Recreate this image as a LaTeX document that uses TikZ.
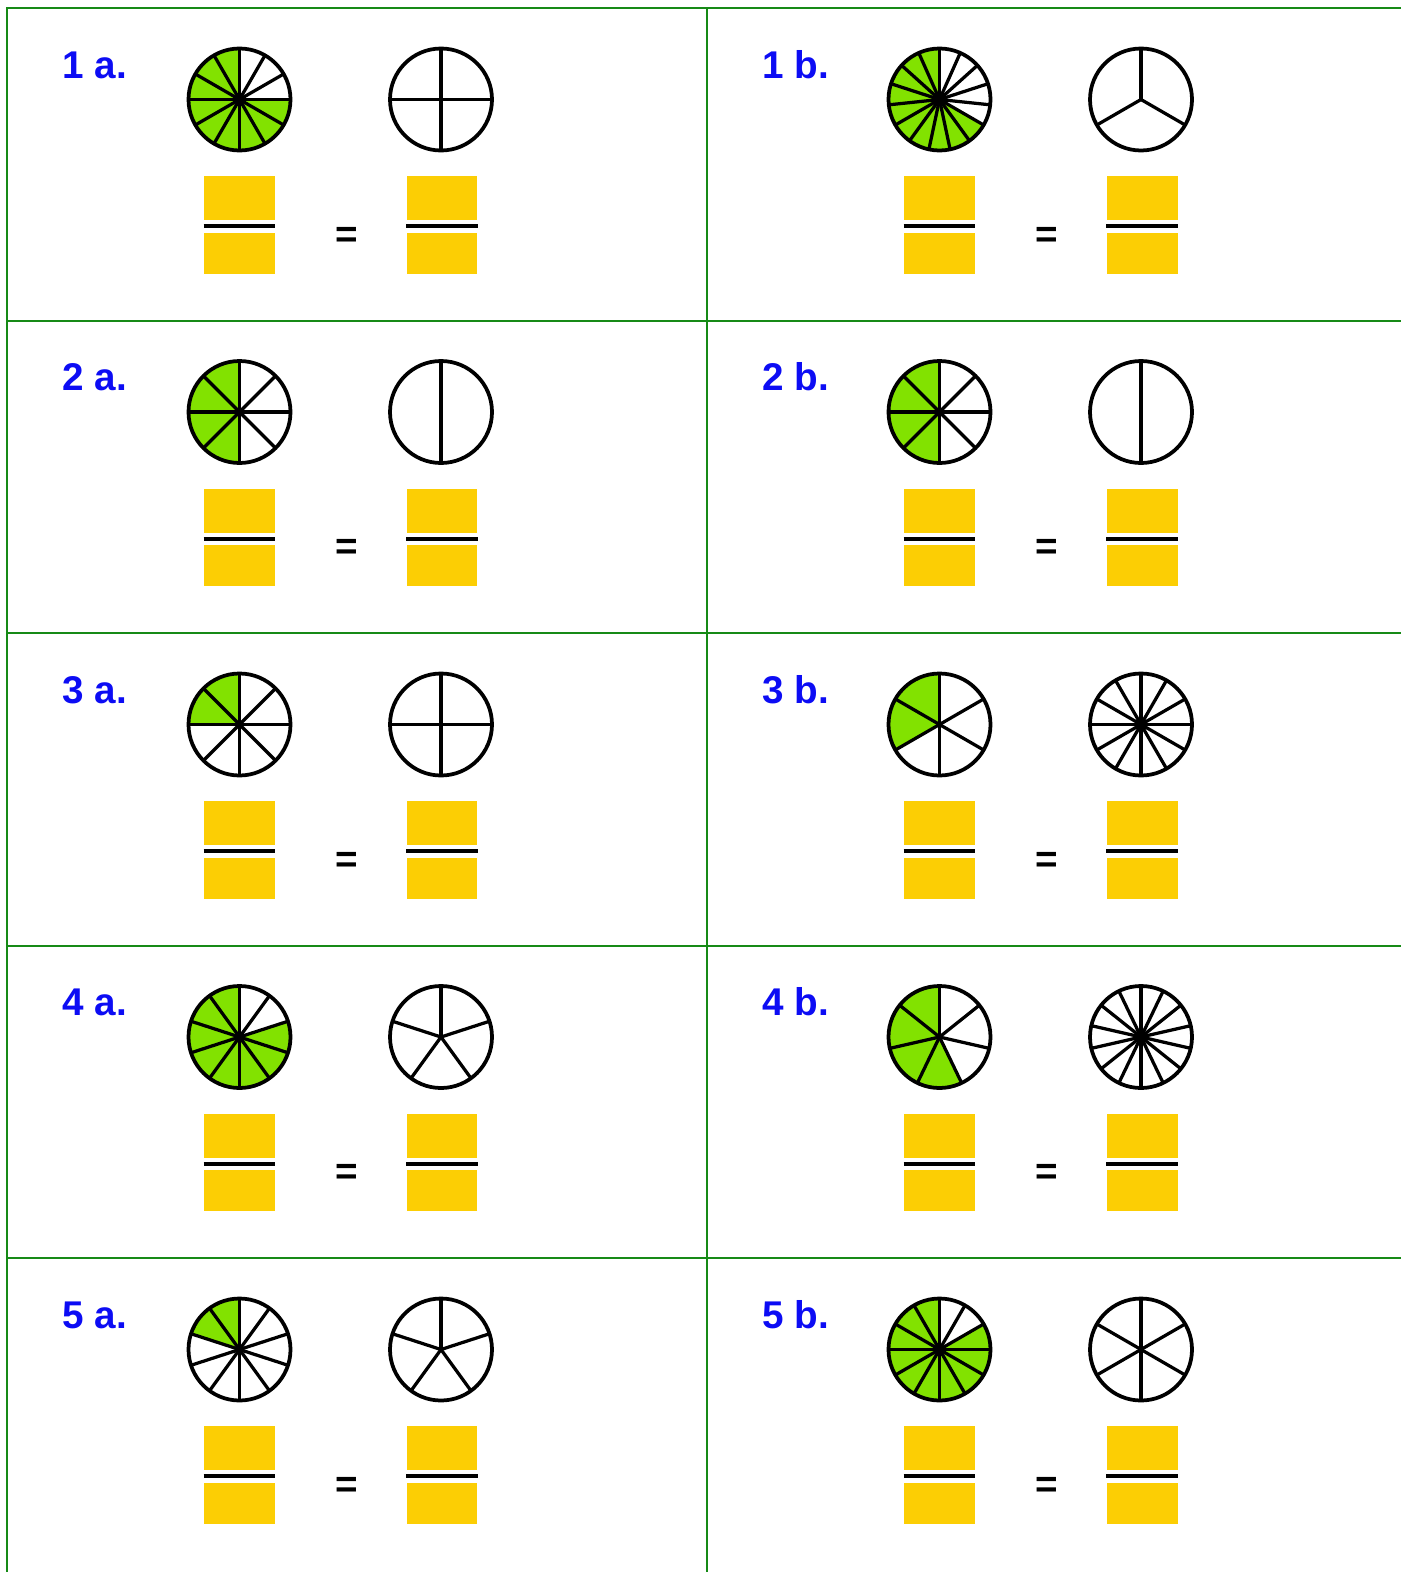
\documentclass[tikz,border=0pt]{standalone}
\usepackage{fontspec}
\setmainfont{Liberation Sans}
\usepackage{tikz}
\usetikzlibrary{positioning}
\definecolor{gridgreen}{HTML}{168A16}
\definecolor{piegreen}{HTML}{82E200}
\definecolor{boxyellow}{HTML}{FCCE04}
\definecolor{lblblue}{HTML}{0C0CF4}

% #1 centre, #2 parts, #3 shaded parts (counter-clockwise from the top)
\newcommand{\fracpie}[3]{%
  \ifnum#3>0\relax
    \fill[piegreen] (#1) -- ++(90:51) arc[start angle=90, delta angle={360*#3/#2}, radius=51] -- cycle;
  \fi
  \foreach \s in {1,...,#2}
    \draw[spoke] (#1) -- ++({90+(\s-1)*360/#2}:51);
  \draw[rim] (#1) circle[radius=51];
}

\begin{document}
\begin{tikzpicture}[
  x=0.02cm, y=0.02cm,
  cell/.style={gridgreen, line width=0.04cm},
  rim/.style={black, line width=0.075cm},
  spoke/.style={black, line width=0.065cm},
  lbl/.style={font=\fontsize{22}{26}\selectfont\bfseries, text=lblblue, inner sep=0pt, anchor=base west},
  numbox/.style={fill=boxyellow, minimum width=1.42cm, minimum height=0.88cm, inner sep=0pt},
  denbox/.style={fill=boxyellow, minimum width=1.42cm, minimum height=0.82cm, inner sep=0pt},
  bar/.style={black, line width=0.08cm},
  eqs/.style={font=\fontsize{22}{26}\selectfont\bfseries, inner sep=0pt},
]
  \useasboundingbox (0,0) rectangle (1401,-1572);

  % Grid
  \draw[cell] (7,-1572) -- (7,-8) -- (1401,-8);
  \draw[cell] (707,-8) -- (707,-1572);
  \foreach \h in {1,...,4}
    \draw[cell] (7,{-8-312.5*\h}) -- (1401,{-8-312.5*\h});

  % Exercises: row/part/x-offset/parts/shaded/parts on the right
  \foreach \r/\c/\cx/\n/\k/\m in {
      1/a/0/12/9/4,  1/b/700/15/10/3,
      2/a/0/8/4/2,   2/b/700/8/4/2,
      3/a/0/8/2/4,   3/b/700/6/2/12,
      4/a/0/10/8/5,  4/b/700/7/4/14,
      5/a/0/10/2/5,  5/b/700/12/10/6}
  {
    \begin{scope}[shift={(\cx,{-312.5*(\r-1)})}]
      \node[lbl] (lbl\r\c) at (62,-78) {\r\ \c.};

      % pies
      \coordinate (pl\r\c) at (239.5,-99.5);
      \coordinate (pr\r\c) at (441,-99.5);
      \fracpie{pl\r\c}{\n}{\k}
      \fracpie{pr\r\c}{\m}{0}

      % fraction boxes
      \node[numbox] (nl\r\c) at (239.5,-198) {};
      \node[denbox, below=0.24cm of nl\r\c] (dl\r\c) {};
      \node[numbox] (nr\r\c) at (442,-198) {};
      \node[denbox, below=0.24cm of nr\r\c] (dr\r\c) {};
      \draw[bar] ([yshift=-0.12cm]nl\r\c.south west) -- ([yshift=-0.12cm]nl\r\c.south east);
      \draw[bar] ([yshift=-0.12cm]nr\r\c.south west) -- ([yshift=-0.12cm]nr\r\c.south east);

      \node[eqs] (eq\r\c) at (346.5,-237) {=};
    \end{scope}
  }

\end{tikzpicture}
\end{document}
